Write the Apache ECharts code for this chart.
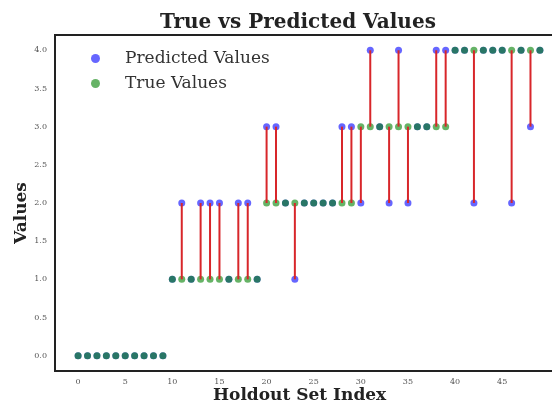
<!DOCTYPE html>
<html>
<head>
<meta charset="utf-8">
<script src="https://cdn.jsdelivr.net/npm/echarts@6/dist/echarts.min.js"></script>
<style>
  html, body { margin: 0; padding: 0; background: #fff; }
  #chart { width: 552px; height: 405px; }
</style>
</head>
<body>
<div id="chart"></div>
<script>
// holdout index 0..49
const indices = [
  0, 1, 2, 3, 4, 5, 6, 7, 8, 9,
  10, 11, 12, 13, 14, 15, 16, 17, 18, 19,
  20, 21, 22, 23, 24, 25, 26, 27, 28, 29,
  30, 31, 32, 33, 34, 35, 36, 37, 38, 39,
  40, 41, 42, 43, 44, 45, 46, 47, 48, 49
];
const trueValues = [
  0, 0, 0, 0, 0, 0, 0, 0, 0, 0,
  1, 1, 1, 1, 1, 1, 1, 1, 1, 1,
  2, 2, 2, 2, 2, 2, 2, 2, 2, 2,
  3, 3, 3, 3, 3, 3, 3, 3, 3, 3,
  4, 4, 4, 4, 4, 4, 4, 4, 4, 4
];
const predictedValues = [
  0, 0, 0, 0, 0, 0, 0, 0, 0, 0,
  1, 2, 1, 2, 2, 2, 1, 2, 2, 1,
  3, 3, 2, 1, 2, 2, 2, 2, 3, 3,
  2, 4, 3, 2, 4, 2, 3, 3, 4, 4,
  4, 4, 2, 4, 4, 4, 2, 4, 3, 4
];
const xTicks = [0, 5, 10, 15, 20, 25, 30, 35, 40, 45];
const yTicks = [0, 0.5, 1, 1.5, 2, 2.5, 3, 3.5, 4];

const serif = '"DejaVu Serif", serif';

const chart = echarts.init(document.getElementById('chart'));

const predData = indices.map((x, i) => [x, predictedValues[i]]);
const trueData = indices.map((x, i) => [x, trueValues[i]]);
const errData = indices.map((x, i) => [x, trueValues[i], predictedValues[i]]);

const option = {
  animation: false,
  backgroundColor: '#fff',
  title: {
    text: 'True vs Predicted Values',
    left: 293,
    textAlign: 'center',
    top: 8,
    textStyle: { fontFamily: serif, fontWeight: 'bold', fontSize: 20, color: '#222' }
  },
  legend: {
    orient: 'vertical',
    left: 86,
    top: 45,
    itemWidth: 9,
    itemHeight: 9,
    itemGap: 8,
    icon: 'circle',
    data: ['Predicted Values', 'True Values'],
    textStyle: { fontFamily: serif, fontSize: 17, color: '#333', padding: [0, 0, 0, 20], lineHeight: 17 }
  },
  grid: {
    left: 55,
    top: 35,
    width: 508,
    bottom: 34,
    outerBoundsMode: 'none',
    show: true,
    borderColor: '#222',
    borderWidth: 2,
    backgroundColor: '#fff'
  },
  xAxis: {
    type: 'value',
    min: -2.45,
    max: 51.45,
    splitLine: { show: false },
    axisLine: { show: false },
    axisTick: { show: false },
    axisLabel: {
      customValues: xTicks,
      fontFamily: serif,
      fontSize: 8,
      color: '#555',
      margin: 7
    }
  },
  yAxis: {
    type: 'value',
    min: -0.2,
    max: 4.2,
    splitLine: { show: false },
    axisLine: { show: false },
    axisTick: { show: false },
    axisLabel: {
      customValues: yTicks,
      formatter: v => v.toFixed(1),
      fontFamily: serif,
      fontSize: 8,
      color: '#555',
      margin: 8
    }
  },
  graphic: [
    {
      type: 'text',
      left: 295 - 82,
      top: 387,
      style: { text: 'Holdout Set Index', font: 'bold 17px ' + serif, fill: '#222' }
    },
    {
      type: 'text',
      x: 22,
      y: 213,
      rotation: Math.PI / 2,
      style: { text: 'Values', font: 'bold 17px ' + serif, fill: '#222', align: 'center', verticalAlign: 'middle' }
    }
  ],
  series: [
    {
      name: 'Predicted Values',
      type: 'scatter',
      data: predData,
      symbolSize: 7,
      itemStyle: { color: 'rgb(0,0,255)', opacity: 0.6 },
      z: 2
    },
    {
      name: 'True Values',
      type: 'scatter',
      data: trueData,
      symbolSize: 7,
      itemStyle: { color: 'rgb(0,128,0)', opacity: 0.6 },
      z: 3
    },
    {
      name: 'errors',
      type: 'custom',
      data: errData,
      z: 4,
      renderItem: (params, api) => {
        const x = api.value(0);
        const t = api.value(1);
        const p = api.value(2);
        if (t === p) return null;
        const a = api.coord([x, t]);
        const b = api.coord([x, p]);
        return {
          type: 'line',
          shape: { x1: a[0], y1: a[1], x2: b[0], y2: b[1] },
          style: { stroke: '#d8262a', lineWidth: 2 }
        };
      }
    }
  ]
};

chart.setOption(option);
</script>
</body>
</html>
